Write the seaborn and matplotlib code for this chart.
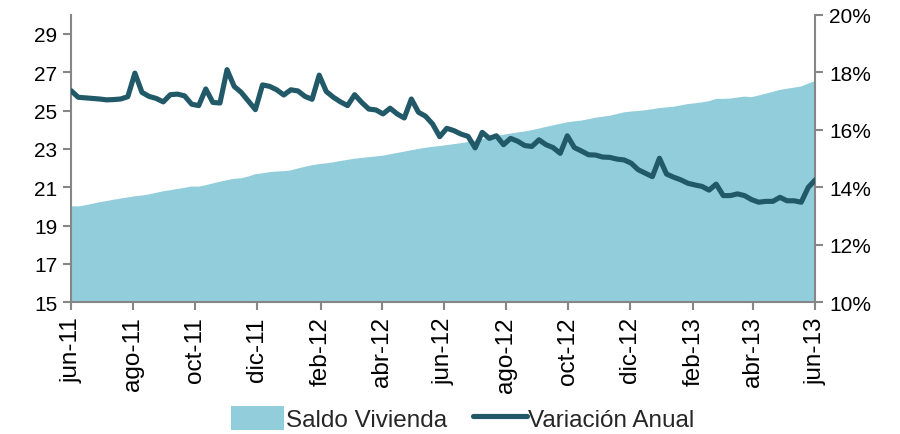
import matplotlib
matplotlib.use("Agg")
import matplotlib.pyplot as plt
from matplotlib.lines import Line2D
from matplotlib.patches import Patch
import seaborn as sns
import pandas as pd

# ---- data ----
start_date = "2011-06-01"
end_date = "2013-06-01"
n_points = 106

saldo_vivienda = [
    20.01, 20.00, 20.06, 20.14, 20.22, 20.28, 20.35, 20.41, 20.47, 20.53,
    20.57, 20.63, 20.71, 20.79, 20.85, 20.91, 20.97, 21.04, 21.03, 21.11,
    21.20, 21.29, 21.37, 21.44, 21.47, 21.56, 21.68, 21.73, 21.79, 21.82,
    21.84, 21.88, 21.98, 22.07, 22.15, 22.21, 22.25, 22.30, 22.37, 22.43,
    22.49, 22.53, 22.57, 22.61, 22.65, 22.72, 22.79, 22.86, 22.93, 23.00,
    23.06, 23.11, 23.15, 23.20, 23.25, 23.30, 23.36, 23.44, 23.51, 23.59,
    23.67, 23.74, 23.80, 23.86, 23.91, 23.98, 24.06, 24.15, 24.23, 24.31,
    24.39, 24.44, 24.48, 24.55, 24.63, 24.68, 24.73, 24.82, 24.91, 24.95,
    24.98, 25.02, 25.07, 25.13, 25.17, 25.20, 25.27, 25.34, 25.38, 25.43,
    25.49, 25.61, 25.61, 25.63, 25.68, 25.73, 25.70, 25.79, 25.88, 25.98,
    26.08, 26.14, 26.20, 26.26, 26.41, 26.54,
]

variacion_anual = [
    17.36, 17.13, 17.11, 17.09, 17.07, 17.04, 17.05, 17.07, 17.15, 17.97,
    17.30, 17.16, 17.09, 16.97, 17.22, 17.24, 17.18, 16.89, 16.84, 17.42,
    16.95, 16.93, 18.09, 17.51, 17.30, 17.00, 16.70, 17.56, 17.51, 17.39,
    17.21, 17.39, 17.35, 17.16, 17.06, 17.90, 17.33, 17.13, 16.97, 16.84,
    17.22, 16.95, 16.72, 16.69, 16.55, 16.75, 16.55, 16.41, 17.07, 16.61,
    16.47, 16.20, 15.76, 16.05, 15.97, 15.85, 15.77, 15.37, 15.91, 15.70,
    15.79, 15.48, 15.70, 15.60, 15.45, 15.42, 15.65, 15.48, 15.38, 15.18,
    15.79, 15.38, 15.26, 15.13, 15.12, 15.05, 15.04, 14.98, 14.95, 14.84,
    14.61, 14.49, 14.37, 15.01, 14.46, 14.35, 14.26, 14.14, 14.08, 14.03,
    13.90, 14.11, 13.71, 13.71, 13.77, 13.71, 13.57, 13.48, 13.51, 13.51,
    13.65, 13.53, 13.53, 13.48, 14.00, 14.26,
]

tick_dates = ["2011-06-01", "2011-08-01", "2011-10-01", "2011-12-01",
              "2012-02-01", "2012-04-01", "2012-06-01", "2012-08-01",
              "2012-10-01", "2012-12-01", "2013-02-01", "2013-04-01",
              "2013-06-01"]
tick_labels = ["jun-11", "ago-11", "oct-11", "dic-11", "feb-12", "abr-12",
               "jun-12", "ago-12", "oct-12", "dic-12", "feb-13", "abr-13",
               "jun-13"]
left_ticks = [15, 17, 19, 21, 23, 25, 27, 29]
right_ticks = [10, 12, 14, 16, 18, 20]

series_labels = ["Saldo Vivienda", "Variación Anual"]

# ---- styling ----
sns.set_theme(style="white")
plt.rcParams["font.family"] = ["Liberation Sans", "DejaVu Sans"]

area_color = "#92CDDC"
line_color = "#215968"
axis_gray = "#868686"
lw = 3.7

dates = pd.date_range(start_date, end_date, periods=n_points)
df = pd.DataFrame({"fecha": dates, "saldo": saldo_vivienda, "var": variacion_anual})

fig = plt.figure(figsize=(9, 4.35), dpi=100)
ax = fig.add_axes([0.079, 0.3028, 0.827, 0.661])
ax2 = ax.twinx()

ax.fill_between(df["fecha"], 0, df["saldo"], color=area_color, lw=0, zorder=1)
sns.lineplot(data=df, x="fecha", y="var", ax=ax2, color=line_color,
             linewidth=lw, zorder=3)

ax.set_ylim(15, 30)
ax2.set_ylim(10, 20)
ax.set_xlim(pd.Timestamp(start_date), pd.Timestamp(end_date))

ax.set_yticks(left_ticks)
ax.set_yticklabels([str(t) for t in left_ticks])
ax2.set_yticks(right_ticks)
ax2.set_yticklabels([f"{t}%" for t in right_ticks])

ax.set_xticks([pd.Timestamp(d) for d in tick_dates])
ax.set_xticklabels(tick_labels, rotation=90)

for a in (ax, ax2):
    a.set_xlabel("")
    a.set_ylabel("")
    a.spines["top"].set_visible(False)
    for s in ("left", "right", "bottom"):
        a.spines[s].set_color(axis_gray)
        a.spines[s].set_linewidth(1.5)
    a.grid(False)
ax.spines["right"].set_visible(False)
ax2.spines["left"].set_visible(False)
ax2.spines["bottom"].set_visible(False)

ax.tick_params(axis="y", which="both", direction="out", length=6, width=1.5,
               color=axis_gray, labelsize=15, labelcolor="#000000", pad=4, left=True)
ax.tick_params(axis="x", which="both", direction="out", length=6, width=1.5,
               color=axis_gray, labelsize=17.5, labelcolor="#000000", pad=4, bottom=True)
ax2.tick_params(axis="y", which="both", direction="out", length=6, width=1.5,
                color=axis_gray, labelsize=15, labelcolor="#000000", pad=4, right=True)

ax2.set_zorder(ax.get_zorder() + 1)
ax2.patch.set_visible(False)

handles = [Patch(facecolor=area_color, edgecolor="none"),
           Line2D([0], [0], color=line_color, linewidth=lw)]
leg = fig.legend(handles, series_labels, loc="center", bbox_to_anchor=(0.514, 0.036),
                 ncol=2, frameon=False, fontsize=17.5, handlelength=2.2,
                 handleheight=1.2, columnspacing=1.1, handletextpad=0.05)

fig.savefig("out.png", dpi=100)
